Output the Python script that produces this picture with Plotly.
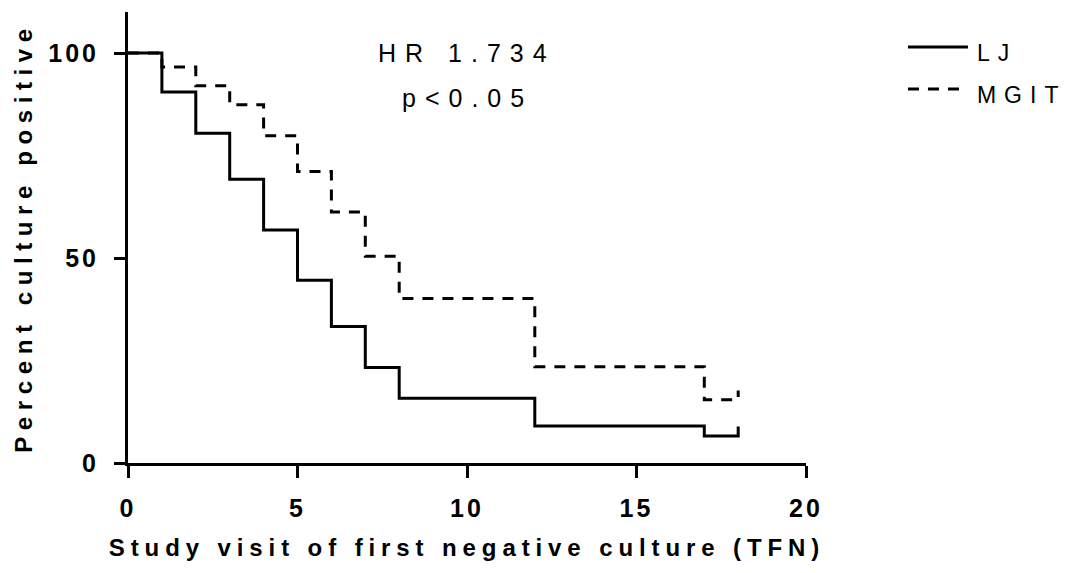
import plotly.graph_objects as go

# ---- data ----
lj_times = [0, 1, 2, 3, 4, 5, 6, 7, 8, 12, 17]
lj_surv = [100, 90.5, 80.4, 69.2, 56.8, 44.6, 33.3, 23.3, 15.8, 9.0, 6.6]
lj_censor = 18

mgit_times = [0, 1, 2, 3, 4, 5, 6, 7, 8, 12, 17]
mgit_surv = [100, 96.6, 92.0, 87.4, 79.8, 71.1, 61.2, 50.4, 40.1, 23.5, 15.4]
mgit_censor = 18

x_ticks = [0, 5, 10, 15, 20]
y_ticks = [0, 50, 100]
hr_text = "HR 1.734"
p_text = "p<0.05"

FONT = "Liberation Sans, Arial, sans-serif"
TICK_H = 2.3  # censor tick height in data units (style)


def km_path(times, surv, censor):
    xs = list(times) + [censor, censor]
    ys = list(surv) + [surv[-1], surv[-1] + TICK_H]
    return xs, ys


fig = go.Figure()
x1, y1 = km_path(lj_times, lj_surv, lj_censor)
fig.add_trace(go.Scatter(x=x1, y=y1, mode="lines", line_shape="hv", name="LJ",
                         legendgroup="a",
                         line=dict(color="black", width=3)))
x2, y2 = km_path(mgit_times, mgit_surv, mgit_censor)
fig.add_trace(go.Scatter(x=x2, y=y2, mode="lines", line_shape="hv", name="MGIT",
                         legendgroup="b",
                         line=dict(color="black", width=3, dash="11px,9px")))

fig.add_annotation(x=10.0, y=100, text=hr_text, showarrow=False,
                   font=dict(family=FONT, size=25, color="black"), xref="x", yref="y")
fig.add_annotation(x=10.0, y=89, text=p_text, showarrow=False,
                   font=dict(family=FONT, size=25, color="black"), xref="x", yref="y")

fig.update_layout(
    width=1084, height=573,
    margin=dict(l=128, r=278, t=12, b=110),
    plot_bgcolor="white", paper_bgcolor="white",
    font=dict(family=FONT, color="black"),
    showlegend=True,
    legend=dict(x=1.143, y=0.97, xanchor="left", yanchor="top",
                font=dict(family=FONT, size=23, color="black"),
                tracegroupgap=9, itemwidth=60,
                bgcolor="rgba(0,0,0,0)"),
)
fig.update_xaxes(range=[0, 20], tickvals=x_ticks, showgrid=False, zeroline=False,
                 showline=True, linecolor="black", linewidth=3,
                 ticks="outside", ticklen=12, tickwidth=3, tickcolor="black",
                 tickfont=dict(family=FONT, size=25, color="black", weight="bold"),
                 ticklabelstandoff=9,
                 title=dict(text="Study visit of first negative culture (TFN)",
                            font=dict(family=FONT, size=24, color="black", weight="bold"),
                            standoff=19))
fig.update_yaxes(range=[0, 110], tickvals=y_ticks, showgrid=False, zeroline=False,
                 showline=True, linecolor="black", linewidth=3,
                 ticks="outside", ticklen=11, tickwidth=3, tickcolor="black",
                 tickfont=dict(family=FONT, size=25, color="black", weight="bold"),
                 ticklabelstandoff=10,
                 title=dict(text="Percent culture positive",
                            font=dict(family=FONT, size=24, color="black", weight="bold"),
                            standoff=18))

post = """
var s = document.createElement('style');
s.textContent = 'body {margin: 0;} ' +
  '.xtitle {letter-spacing: 5.9px;} .ytitle {letter-spacing: 6.6px;} ' +
  '.xtick text, .ytick text {letter-spacing: 3px;} ' +
  '.legendtext {letter-spacing: 8px; transform: translate(4px, 5px);} ' +
  '.annotation-text {letter-spacing: 9px;}';
document.head.appendChild(s);
var gd = document.getElementById('{plot_id}');
Plotly.newPlot(gd, gd.data, gd.layout, {displayModeBar: false}).then(function () {
  gd.querySelectorAll('.legend .scrollbox, .legend').forEach(function (e) {
    e.removeAttribute('clip-path');
  });
});
"""
fig.write_html("out.html", post_script=post, config={"displayModeBar": False})
